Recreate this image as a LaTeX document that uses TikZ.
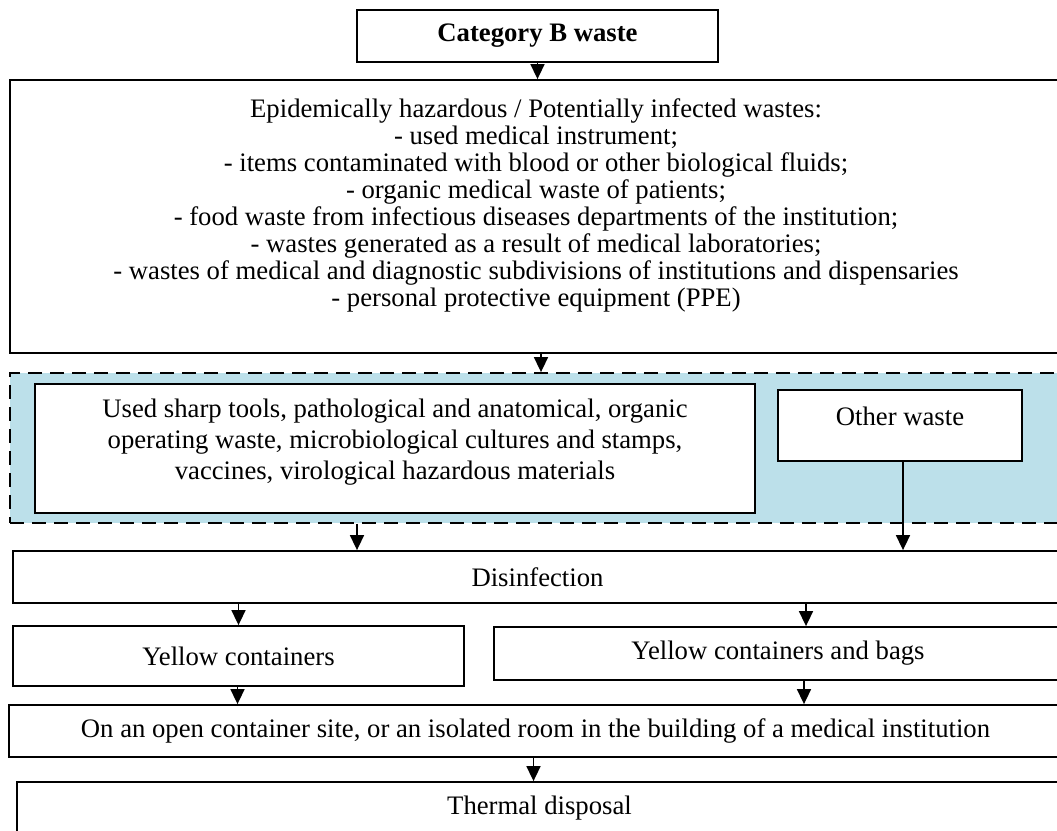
\documentclass[tikz,border=0pt]{standalone}
\usepackage{fontspec}
\setmainfont{Liberation Serif}
\usetikzlibrary{arrows.meta}
\definecolor{zoneblue}{RGB}{188,224,234}
\begin{document}
\begin{tikzpicture}[x=1pt,y=-1pt,
  box/.style={draw=black, line width=1.8pt, fill=white, inner sep=0pt, align=center,
    font=\fontsize{26.7}{27}\selectfont},
  txt/.style={inner sep=0pt, align=center, font=\fontsize{26.7}{27}\selectfont},
  zone/.style={draw=black, line width=1.8pt, fill=zoneblue, dash pattern=on 14pt off 8pt, inner sep=0pt},
  flow/.style={-{Triangle[width=14pt,length=15pt]}, line width=1.6pt}]
\useasboundingbox (0,0) rectangle (1057,830);
\clip (0,0) rectangle (1057,830);

% category box
\node[box, minimum width=361pt, minimum height=52pt, font=\fontsize{26.7}{27}\selectfont\bfseries]
  (catb) at (537.5,36) {Category B waste};

% list of epidemically hazardous wastes
\node[box, minimum width=1052pt, minimum height=273pt] (big) at (536,216.5) {};
\node[txt] (bigtxt) at (536,205) {Epidemically hazardous / Potentially infected wastes:\\
- used medical instrument;\\
- items contaminated with blood or other biological fluids;\\
- organic medical waste of patients;\\
- food waste from infectious diseases departments of the institution;\\
- wastes generated as a result of medical laboratories;\\
- wastes of medical and diagnostic subdivisions of institutions and dispensaries\\
- personal protective equipment (PPE)};

% shaded zone with the two waste groups
\node[zone, minimum width=1052pt, minimum height=150pt] (zone) at (536,448) {};
\node[box, minimum width=720pt, minimum height=129pt] (sharp) at (395,448.5) {};
\node[txt, font=\fontsize{26.7}{31}\selectfont] (sharptxt) at (395,442)
  {Used sharp tools, pathological and anatomical, organic\\
   operating waste, microbiological cultures and stamps,\\
   vaccines, virological hazardous materials};
\node[box, minimum width=244pt, minimum height=71pt] (other) at (900,425.5) {};
\node[txt] (othertxt) at (900,416) {Other waste};

% processing steps
\node[box, minimum width=1049pt, minimum height=52pt] (disinf) at (537.5,577) {Disinfection};
\node[box, minimum width=451pt, minimum height=60pt] (yc) at (238.5,656) {Yellow containers};
\node[box, minimum width=568pt, minimum height=53pt] (yb) at (778,653.5) {Yellow containers and bags};
\node[box, minimum width=1053pt, minimum height=52pt] (site) at (535.5,731)
  {On an open container site, or an isolated room in the building of a medical institution};
\node[box, minimum width=1045pt, minimum height=52pt] (therm) at (539.5,808) {Thermal disposal};

% connectors
\draw[flow] (catb.south) -- (catb.south |- big.north);
\draw[flow] ([xshift=5pt]big.south) -- ([xshift=5pt]big.south |- zone.north);
\draw[flow] ([xshift=-179pt]zone.south) -- ([xshift=-179pt]zone.south |- disinf.north);
\draw[flow] ([xshift=3pt]other.south) -- ([xshift=3pt]other.south |- disinf.north);
\draw[flow] (yc.north |- disinf.south) -- (yc.north);
\draw[flow] ([xshift=28pt]yb.north |- disinf.south) -- ([xshift=28pt]yb.north);
\draw[flow] ([xshift=-1pt]yc.south) -- ([xshift=-1pt]yc.south |- site.north);
\draw[flow] ([xshift=26pt]yb.south) -- ([xshift=26pt]yb.south |- site.north);
\draw[flow] ([xshift=-2pt]site.south) -- ([xshift=-2pt]site.south |- therm.north);
\end{tikzpicture}
\end{document}
